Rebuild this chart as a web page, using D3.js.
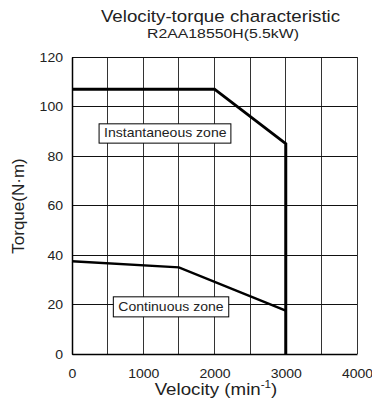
<!DOCTYPE html>
<html>
<head>
<meta charset="utf-8">
<title>Velocity-torque characteristic</title>
<style>
  body { margin: 0; background: #fff; }
  svg text { font-family: Arial, "Liberation Sans", sans-serif; font-weight: normal; fill: #222; }
</style>
</head>
<body>
<script src="https://cdn.jsdelivr.net/npm/d3@7"></script>
<script>
// data
var instVelocity = [0, 2000, 3000, 3000];
var instTorque = [107, 107, 85, 0];
var contVelocity = [0, 1500, 3000];
var contTorque = [37.5, 35, 17.5];
var xTicks = [0, 1000, 2000, 3000, 4000];
var yTicks = [0, 20, 40, 60, 80, 100, 120];
var xGrid = [0, 500, 1000, 1500, 2000, 2500, 3000, 3500, 4000];
var zoneLabels = ["Instantaneous zone", "Continuous zone"];
var zoneBoxes = [[380, 2230, 93, 85.2], [580, 2200, 23.1, 15]]; // x0,x1,yTop,yBottom in data units

var W = 372, H = 406;
var margin = {top: 57, right: 15, bottom: 52, left: 72};
var SX = 1.17; // text in the original is a bit wider than Arial

var svg = d3.select("body").append("svg")
  .attr("width", W)
  .attr("height", H);

var x = d3.scaleLinear().domain([0, 4000]).range([margin.left, W - margin.right]);
var y = d3.scaleLinear().domain([0, 120]).range([H - margin.bottom, margin.top]);

// place a text with a horizontal stretch
function label(px, py, size, anchor, str) {
  return svg.append("text")
    .attr("transform", "translate(" + px + "," + py + ") scale(" + SX + ",1)")
    .attr("text-anchor", anchor)
    .attr("font-size", size)
    .text(str);
}

// grid
svg.append("g").selectAll("line")
  .data(xGrid)
  .enter().append("line")
  .attr("x1", function(d) { return x(d); })
  .attr("x2", function(d) { return x(d); })
  .attr("y1", y(0)).attr("y2", y(120))
  .attr("stroke", "#333").attr("stroke-width", 1).attr("shape-rendering", "crispEdges");

svg.append("g").selectAll("line")
  .data(yTicks)
  .enter().append("line")
  .attr("x1", x(0)).attr("x2", x(4000))
  .attr("y1", function(d) { return y(d); })
  .attr("y2", function(d) { return y(d); })
  .attr("stroke", "#111").attr("stroke-width", 1).attr("shape-rendering", "crispEdges");

// axes
var xAxis = d3.axisBottom(x).tickValues(xTicks).tickSize(0).tickFormat(d3.format("d"));
var yAxis = d3.axisLeft(y).tickValues(yTicks).tickSize(0).tickFormat(d3.format("d"));

var gx = svg.append("g")
  .attr("transform", "translate(0," + y(0) + ")")
  .call(xAxis);
var gy = svg.append("g")
  .attr("transform", "translate(" + x(0) + ",0)")
  .call(yAxis);
gx.selectAll(".tick text")
  .attr("y", 0).attr("dy", 0)
  .attr("transform", "translate(0,24) scale(" + SX + ",1)");
gy.selectAll(".tick text")
  .attr("x", 0).attr("dy", "0.35em")
  .attr("transform", "translate(-9,0) scale(" + SX + ",1)");
[gx, gy].forEach(function(g) {
  g.select(".domain").attr("stroke", "#000").attr("stroke-width", 1.5);
  g.selectAll("text").attr("font-size", 12).attr("fill", "#222")
    .attr("font-family", "Arial, 'Liberation Sans', sans-serif");
});

// curves
var line = d3.line()
  .x(function(d) { return x(d[0]); })
  .y(function(d) { return y(d[1]); });

svg.append("path")
  .datum(d3.zip(instVelocity, instTorque))
  .attr("d", line)
  .attr("fill", "none").attr("stroke", "#000").attr("stroke-width", 3);

svg.append("path")
  .datum(d3.zip(contVelocity, contTorque))
  .attr("d", line)
  .attr("fill", "none").attr("stroke", "#000").attr("stroke-width", 2.5);

// zone labels
zoneLabels.forEach(function(t, i) {
  var b = zoneBoxes[i];
  svg.append("rect")
    .attr("x", x(b[0])).attr("y", y(b[2]))
    .attr("width", x(b[1]) - x(b[0]))
    .attr("height", y(b[3]) - y(b[2]))
    .attr("fill", "#fff").attr("stroke", "#000").attr("stroke-width", 1);
  label(x(b[0]) + 5, (y(b[2]) + y(b[3])) / 2 + 4, 12, "start", t);
});

// titles
label(220.5, 22, 16, "middle", "Velocity-torque characteristic");
label(223, 38, 13.5, "middle", "R2AA18550H(5.5kW)");

var xl = label(216, 395, 16, "middle", "");
xl.append("tspan").text("Velocity (min");
xl.append("tspan").attr("dy", -7).attr("font-size", 10).text("-1");
xl.append("tspan").attr("dy", 7).text(")");

svg.append("text")
  .attr("transform", "translate(24,206) rotate(-90)")
  .attr("text-anchor", "middle")
  .attr("font-size", 17)
  .text("Torque(N\u00b7m)");
</script>
</body>
</html>
